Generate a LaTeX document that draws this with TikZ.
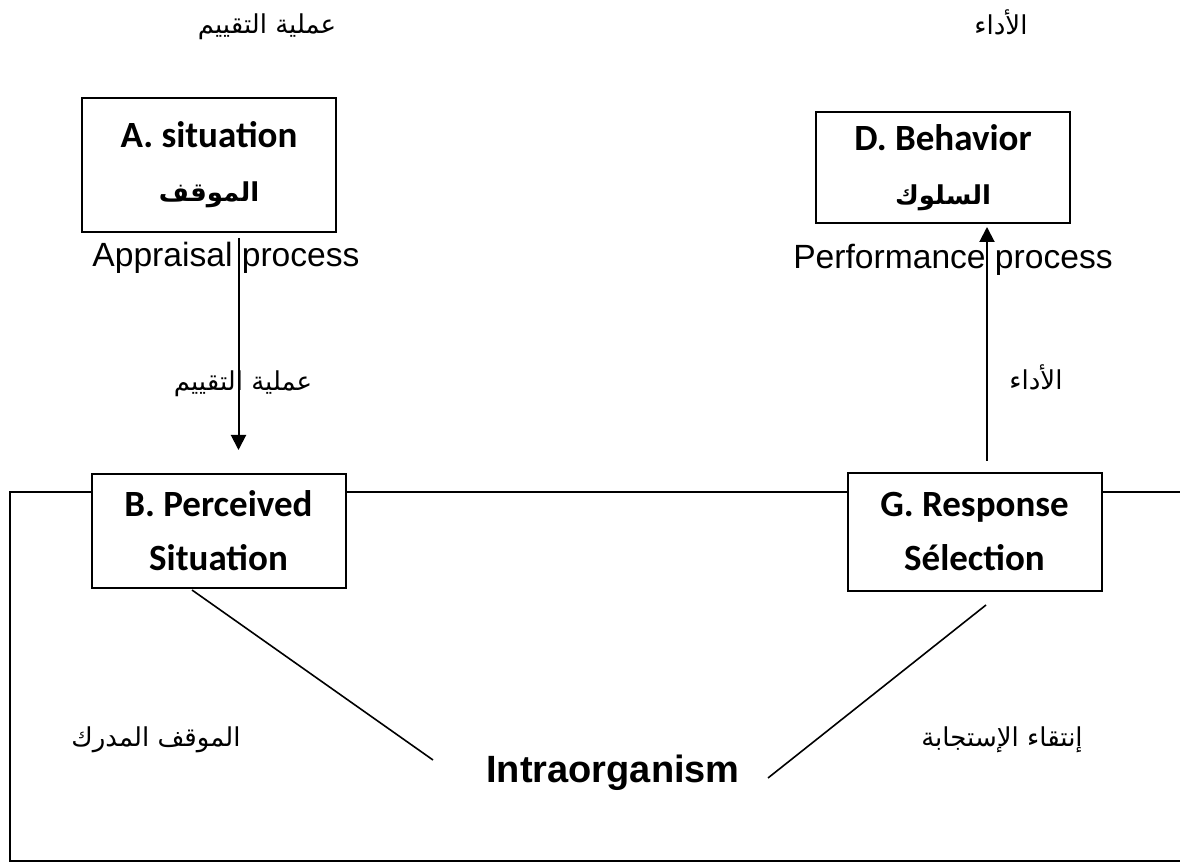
\documentclass[tikz,border=0pt]{standalone}
\usepackage{fontspec}
\setmainfont{Liberation Sans}
\newfontfamily\boxfont{Carlito}
\newfontfamily\arabicfont[Script=Arabic]{DejaVu Sans}
\TeXXeTstate=1
\usetikzlibrary{arrows.meta, positioning, calc}
\tikzstyle{box} = [rectangle, draw=black, line width=1pt, minimum width=127pt, align=center, font=\boxfont\bfseries\fontsize{18.5}{27}\selectfont]
\tikzstyle{proctext} = [font=\fontsize{16.8}{20}\selectfont]
\tikzstyle{artext} = [font=\arabicfont\fontsize{13}{16}\selectfont]
\tikzstyle{arrow} = [line width=1pt,-{Triangle[width=7.5pt,length=7.5pt]}]
\tikzstyle{line} = [line width=0.8pt,-]
\tikzstyle{frame} = [line width=1pt,-]
\newcommand{\ar}[1]{\arabicfont\beginR #1\endR}
\newcommand{\arbox}[1]{{\arabicfont\fontsize{13}{27}\selectfont\beginR #1\endR}}

\begin{document}
\begin{tikzpicture}[x=0.5pt, y=-0.5pt]
        \useasboundingbox (0,0) rectangle (1180,866);

        % Boxes
        \node (A) [box, minimum height=67pt] at (209,165) {A. situation\\ \arbox{الموقف}};
        \node (D) [box, minimum height=55.5pt] at (943,167.5) {D. Behavior\\ \arbox{السلوك}};
        \node (B) [box, minimum height=57pt] at (218.5,531) {B. Perceived\\ Situation};
        \node (G) [box, minimum height=59pt] at (974.5,532) {G. Response\\ Sélection};

        % Labels
        \node (evaltop) [artext] at (267,27) {\ar{عملية التقييم}};
        \node (perftop) [artext] at (1001,22) {\ar{الأداء}};
        \node (appraisal) [proctext] at (226,258) {Appraisal process};
        \node (performance) [proctext] at (953,260) {Performance process};
        \node (evalmid) [artext] at (243,384) {\ar{عملية التقييم}};
        \node (perfmid) [artext] at (1036,377) {\ar{الأداء}};
        \node (perceived) [artext] at (156,740) {\ar{الموقف المدرك}};
        \node (selection) [artext] at (1002,740) {\ar{إنتقاء الإستجابة}};
        \node (intra) [font=\bfseries\fontsize{19}{22}\selectfont] at (613,773) {Intraorganism};

        % Frame
        \coordinate (topleft) at (10,492);
        \draw [frame] (topleft -| B.west) -- (topleft) -- (10,861) -- (1180,861);
        \draw [frame] (topleft -| B.east) -- (topleft -| G.west);
        \draw [frame] (topleft -| G.east) -- (1180,492);

        % Arrows
        \draw [arrow, shorten <=2.5pt, shorten >=11.5pt] ([xshift=14.75pt]A.south) -- ([xshift=14.75pt]A.south |- B.north);
        \draw [arrow, shorten <=5.5pt, shorten >=1.5pt] ([xshift=6.25pt]G.north) -- ([xshift=6.25pt]G.north |- D.south);

        % Lines to the organism
        \coordinate (bend) at (433,760);
        \coordinate (gend) at (768,778);
        \draw [line] ([shift={(-26.5,1)}]B.south) -- (bend);
        \draw [line] ([shift={(11.5,13)}]G.south) -- (gend);

    \end{tikzpicture}
\end{document}
